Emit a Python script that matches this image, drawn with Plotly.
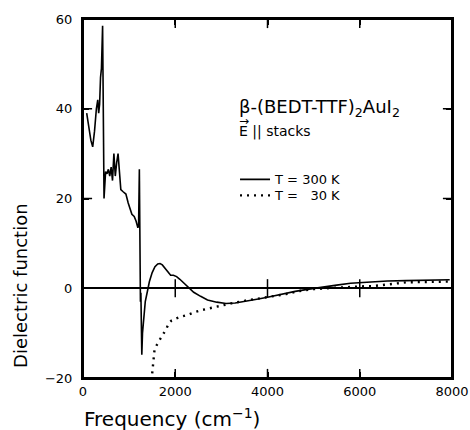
import plotly.graph_objects as go

# ---- data ----
freq_300 = [80, 120, 170, 210, 250, 290, 320, 340, 360, 380, 400, 425, 440, 456,
            490, 520, 550, 580, 610, 640, 670, 700, 730, 760, 790, 820, 870, 930,
            980, 1020, 1060, 1110, 1150, 1190, 1205, 1222, 1237, 1245, 1255, 1265,
            1275, 1290, 1320, 1350, 1400, 1440, 1500, 1560, 1620, 1670, 1720, 1780,
            1850, 1900, 1960, 2030, 2100, 2200, 2290, 2400, 2550, 2700, 2900, 3100,
            3300, 3500, 3800, 4000, 4300, 4600, 4900, 5200, 5500, 5800, 6200, 6600,
            7000, 7500, 7950]
eps_300 = [39, 36, 33, 31.5, 35, 40, 42, 39, 41, 47, 49, 58.5, 35, 20,
           26, 25.5, 26.5, 25, 27, 24, 30, 25, 28, 30, 26, 22, 21.5, 21,
           19, 17.5, 16.5, 16, 15, 13.5, 14, 26.5, 0, -3, -1, -8,
           -14.8, -10, -6, -3, -0.5, 1.5, 3.5, 4.8, 5.4, 5.5, 5.2, 4.5,
           3.5, 2.9, 2.9, 2.6, 2.0, 1.0, 0.0, -0.9, -1.8, -2.6, -3.1, -3.4,
           -3.3, -3.0, -2.4, -2.0, -1.3, -0.7, -0.2, 0.3, 0.7, 1.1, 1.4, 1.6,
           1.7, 1.8, 1.9]

freq_30 = [1485, 1500, 1515, 1530, 1550, 1580, 1620, 1680, 1740, 1800, 1860, 1920,
           2000, 2100, 2250, 2400, 2600, 2800, 3000, 3250, 3500, 3800, 4100, 4400,
           4700, 5000, 5300, 5600, 6000, 6300, 6700, 7000, 7400, 7950]
eps_30 = [-20.5, -18.5, -16.5, -15, -13.8, -13, -12.2, -11.2, -10.2, -9.2, -7.8, -7.2,
          -6.8, -6.4, -6.0, -5.4, -4.8, -4.3, -3.8, -3.3, -2.8, -2.3, -1.9, -1.3,
          -0.6, -0.2, 0.0, 0.2, 0.4, 0.5, 0.9, 1.3, 1.4, 1.5]

x_range = [0, 8000]
y_range = [-20, 60]
x_ticks = [0, 2000, 4000, 6000, 8000]
y_ticks = [-20, 0, 20, 40, 60]
y_tick_text = ["\u221220", "0", "20", "40", "60"]
x_inner_ticks = [2000, 4000, 6000]   # also marked across the zero line
y_inner_ticks = [20, 40]

FONT = "DejaVu Sans"

fig = go.Figure()
fig.add_trace(go.Scatter(x=freq_300, y=eps_300, mode="lines",
                         line=dict(color="black", width=1.6),
                         name="T = 300 K", legend="legend"))
fig.add_trace(go.Scatter(x=freq_30, y=eps_30, mode="lines",
                         line=dict(color="black", width=2.4, dash="2px,5px"),
                         name="T =\u00a0\u00a0\u00a030 K", legend="legend2"))

# tick marks drawn as clipped line markers on the frame edges and across y = 0
tick_style = dict(mode="markers", showlegend=False, hoverinfo="skip",
                  cliponaxis=True)
x_tick_pos = x_inner_ticks * 3
x_tick_lvl = ([y_range[0]] * len(x_inner_ticks) + [y_range[1]] * len(x_inner_ticks)
              + [0] * len(x_inner_ticks))
fig.add_trace(go.Scatter(x=x_tick_pos, y=x_tick_lvl,
                         marker=dict(symbol="line-ns", size=13,
                                     line=dict(color="black", width=1.5)),
                         **tick_style))
y_tick_pos = y_inner_ticks * 2
y_tick_lvl = [x_range[0]] * len(y_inner_ticks) + [x_range[1]] * len(y_inner_ticks)
fig.add_trace(go.Scatter(x=y_tick_lvl, y=y_tick_pos,
                         marker=dict(symbol="line-ew", size=13,
                                     line=dict(color="black", width=1.5)),
                         **tick_style))

axis_common = dict(showgrid=False, ticks="inside", ticklen=6, tickwidth=1.5,
                   tickcolor="#000000", showline=True, linecolor="#000000",
                   linewidth=2, mirror="allticks", automargin=False,
                   tickfont=dict(family=FONT, size=13, color="black"))

fig.update_layout(
    xaxis=dict(range=x_range, tickvals=x_ticks, zeroline=False, **axis_common),
    yaxis=dict(range=y_range, tickvals=y_ticks, ticktext=y_tick_text,
               zeroline=True, zerolinecolor="black", zerolinewidth=2,
               ticklabelstandoff=6, **axis_common),
)

# plot frame
fig.add_shape(type="rect", xref="paper", yref="paper", x0=0, x1=1, y0=0, y1=1,
              line=dict(color="black", width=2), layer="above")

fig.add_annotation(text="Dielectric function", xref="paper", yref="paper",
                   x=-0.171, y=0.259, xanchor="center", yanchor="middle",
                   textangle=-90, showarrow=False,
                   font=dict(family=FONT, size=18, color="black"))
fig.add_annotation(text="Frequency (cm<sup>\u22121</sup>)", xref="paper", yref="paper",
                   x=0.2425, y=-0.111, xanchor="center", yanchor="middle",
                   showarrow=False,
                   font=dict(family=FONT, size=20, color="black"))
fig.add_annotation(text="\u03b2-(BEDT-TTF)<sub>2</sub>AuI<sub>2</sub>",
                   xref="paper", yref="paper", x=0.418, y=0.751,
                   xanchor="left", yanchor="middle", showarrow=False,
                   font=dict(family=FONT, size=18, color="black"))
fig.add_annotation(text="E || stacks", xref="paper", yref="paper",
                   x=0.418, y=0.687, xanchor="left", yanchor="middle",
                   showarrow=False,
                   font=dict(family=FONT, size=14, color="black"))
fig.add_annotation(text="\u2192", xref="paper", yref="paper",
                   x=0.416, y=0.716, xanchor="left", yanchor="middle",
                   showarrow=False,
                   font=dict(family=FONT, size=12, color="black"))

legend_common = dict(xanchor="left", yanchor="top", bgcolor="rgba(0,0,0,0)",
                     itemwidth=30, tracegroupgap=0,
                     font=dict(family=FONT, size=13, color="black"))

fig.update_layout(
    template="none",
    width=470, height=430, autosize=False,
    margin=dict(l=83, r=18, t=19, b=52, pad=0),
    plot_bgcolor="white", paper_bgcolor="white",
    showlegend=True,
    legend=dict(x=0.412, y=0.595, **legend_common),
    legend2=dict(x=0.412, y=0.5504, **legend_common),
)

fig.write_html("out.html",
               config={"displayModeBar": False},
               post_script="document.body.style.margin='0px';"
                           "document.body.style.overflow='hidden';")
